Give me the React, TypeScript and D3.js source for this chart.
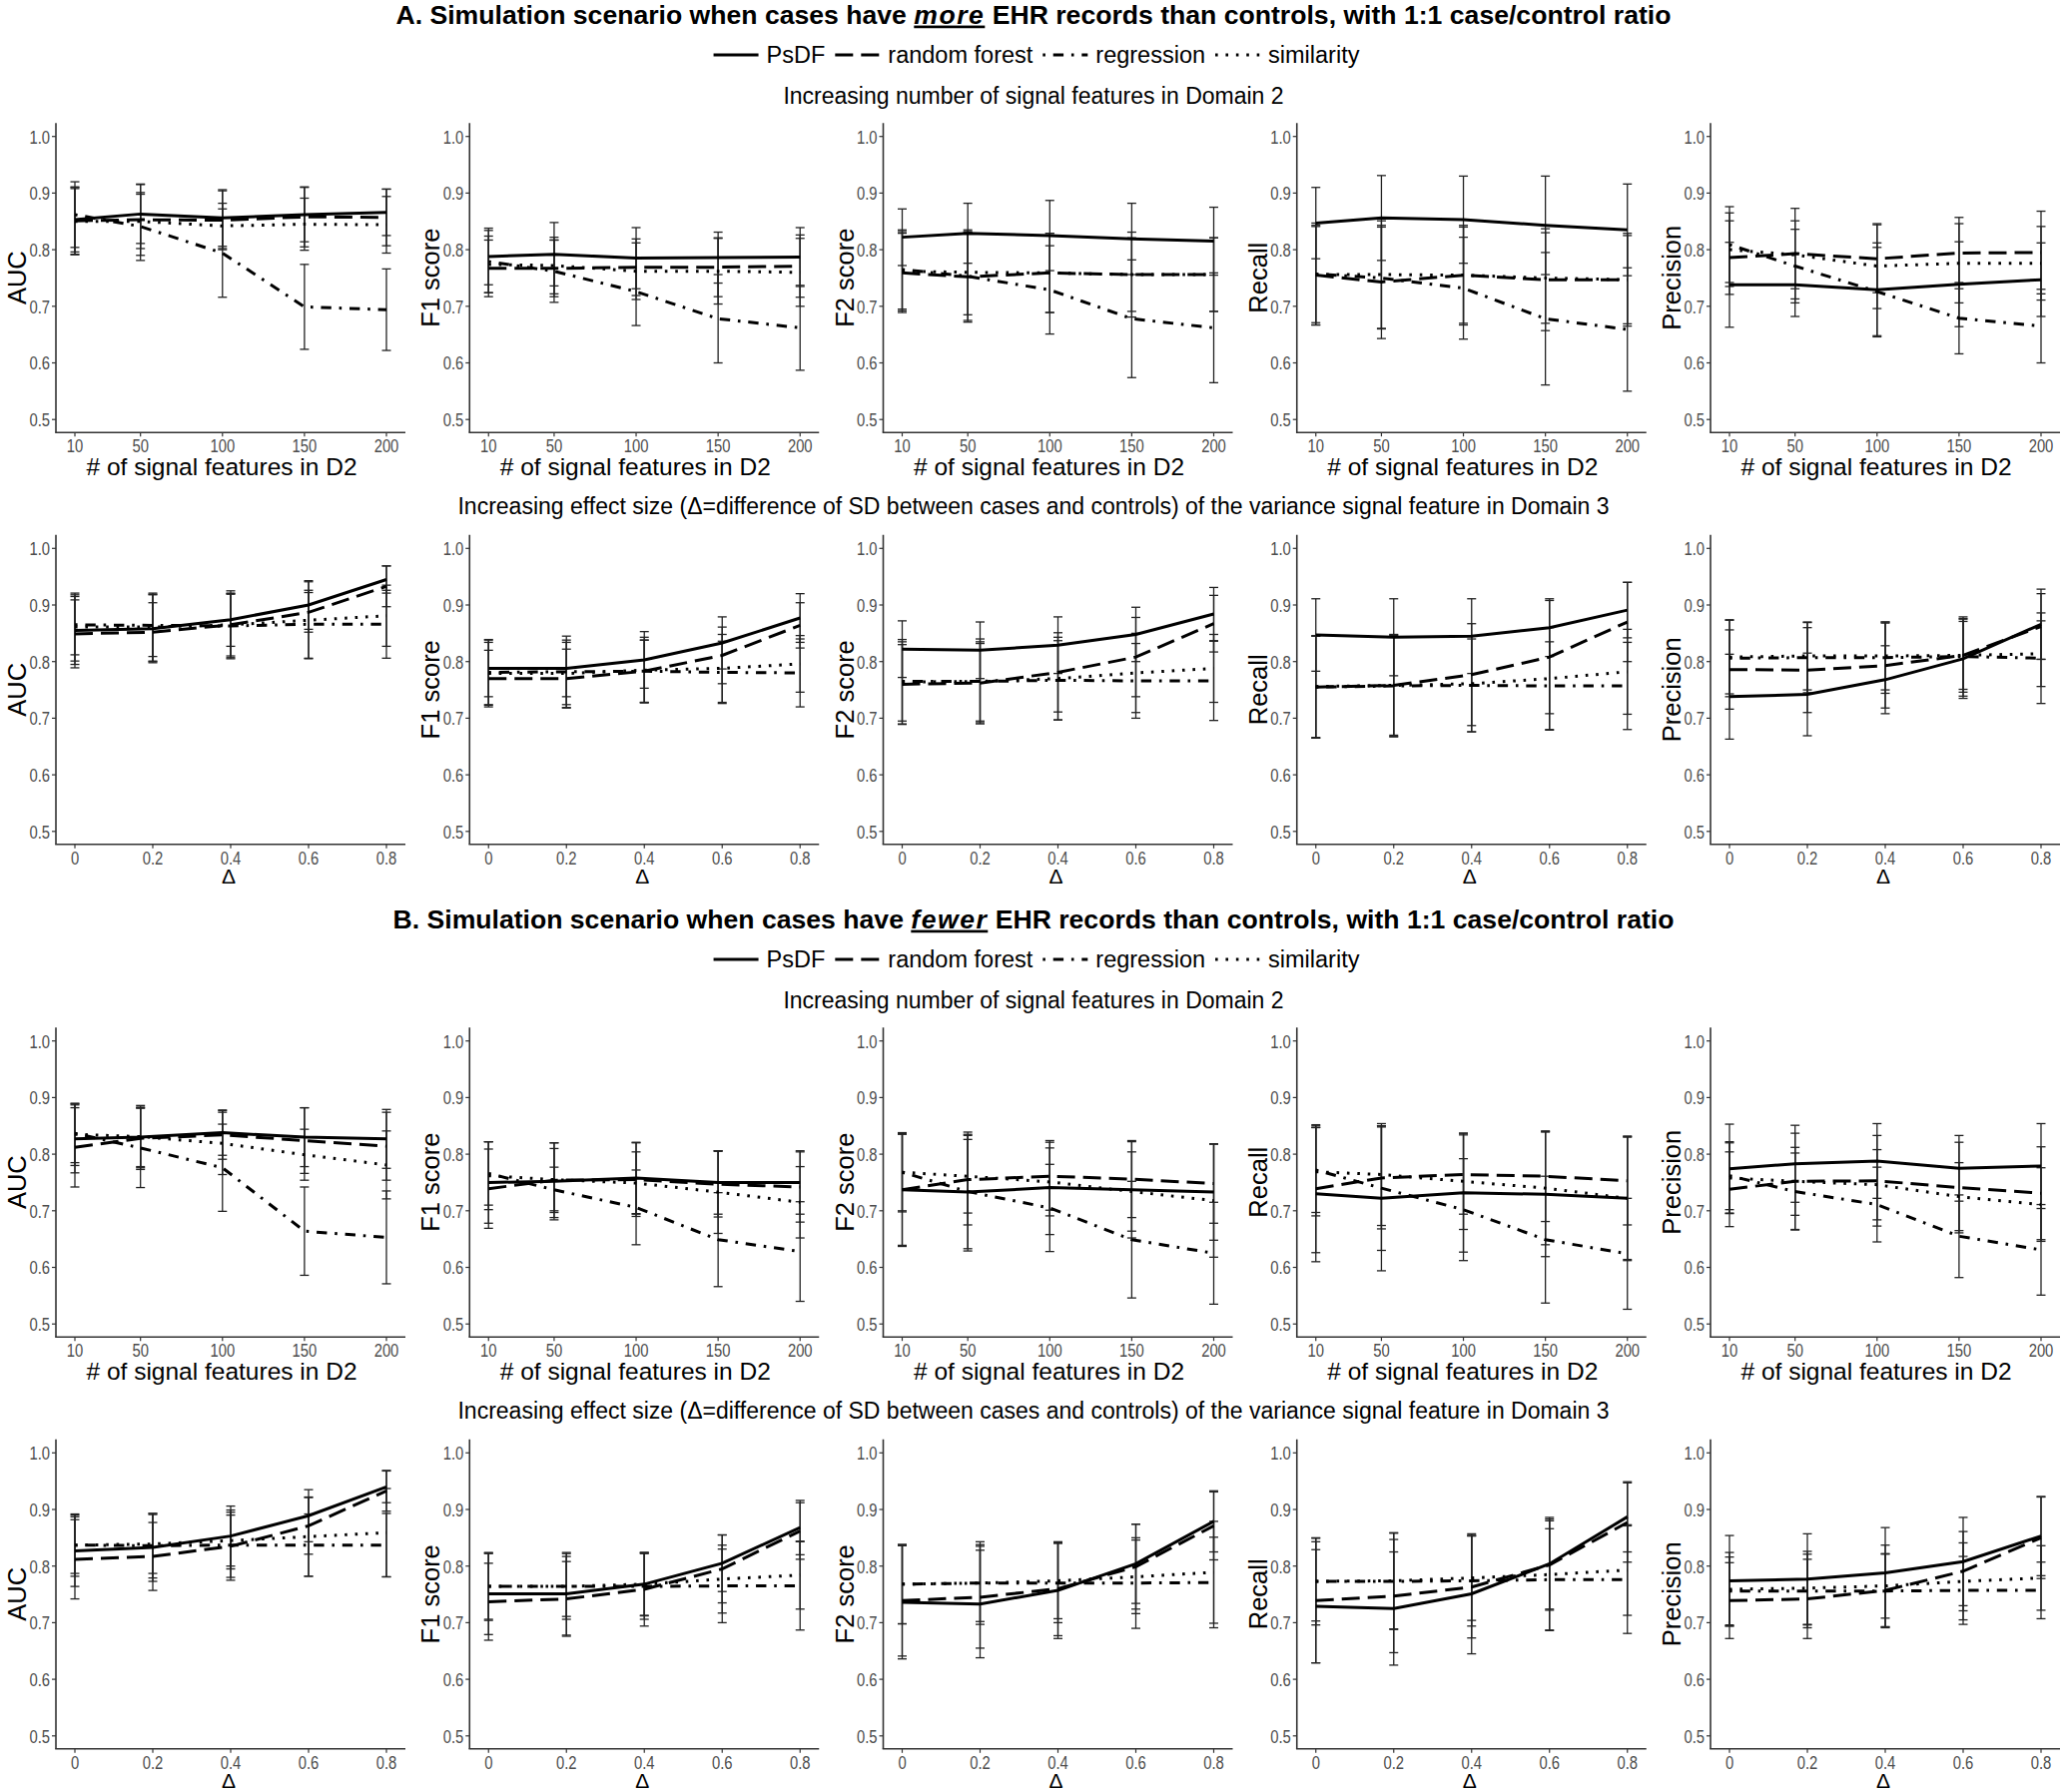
import React, { useEffect, useRef } from "react";
import * as d3 from "d3";

const W = 2067;
const H = 1795;

const methods = ["PsDF", "random forest", "regression", "similarity"];
const dashes = [null, "18,8", "2.6,7.8,10.4,7.8", "2.6,7.8"];
const metricLabels = ["AUC", "F1 score", "F2 score", "Recall", "Precision"];
const signalX = [10, 50, 100, 150, 200];
const deltaX = [0, 0.2, 0.4, 0.6, 0.8];
const signalTickLabels = ["10", "50", "100", "150", "200"];
const deltaTickLabels = ["0", "0.2", "0.4", "0.6", "0.8"];
const yTickValues = [0.5, 0.6, 0.7, 0.8, 0.9, 1.0];

// ---- A: cases have more EHR records, increasing # signal features (rows: PsDF, RF, regression, similarity)
const moreSignalAUC = [[0.853, 0.863, 0.856, 0.862, 0.866], [0.851, 0.853, 0.852, 0.858, 0.857], [0.862, 0.841, 0.794, 0.699, 0.694], [0.850, 0.850, 0.842, 0.845, 0.844]];
const moreSignalF1 = [[0.788, 0.792, 0.785, 0.786, 0.787], [0.767, 0.767, 0.769, 0.769, 0.771], [0.779, 0.762, 0.726, 0.678, 0.662], [0.774, 0.772, 0.762, 0.762, 0.760]];
const moreSignalF2 = [[0.822, 0.829, 0.825, 0.819, 0.815], [0.759, 0.752, 0.759, 0.756, 0.756], [0.765, 0.753, 0.729, 0.678, 0.662], [0.762, 0.760, 0.759, 0.756, 0.756]];
const moreSignalRecall = [[0.847, 0.856, 0.853, 0.843, 0.835], [0.755, 0.743, 0.755, 0.747, 0.747], [0.757, 0.750, 0.732, 0.678, 0.659], [0.756, 0.756, 0.755, 0.750, 0.747]];
const moreSignalPrecision = [[0.738, 0.738, 0.729, 0.739, 0.747], [0.786, 0.793, 0.784, 0.794, 0.795], [0.809, 0.771, 0.726, 0.679, 0.665], [0.800, 0.791, 0.771, 0.776, 0.776]];

const moreSignalAUCsd = [[0.057, 0.052, 0.050, 0.048, 0.041], [0.060, 0.063, 0.052, 0.053, 0.050], [0.058, 0.060, 0.078, 0.075, 0.072], [0.058, 0.048, 0.040, 0.046, 0.050]];
const moreSignalF1sd = [[0.050, 0.056, 0.054, 0.045, 0.052], [0.050, 0.050, 0.050, 0.052, 0.055], [0.055, 0.055, 0.060, 0.078, 0.075], [0.050, 0.050, 0.050, 0.058, 0.060]];
const moreSignalF2sd = [[0.050, 0.053, 0.062, 0.063, 0.060], [0.070, 0.080, 0.070, 0.065, 0.065], [0.070, 0.078, 0.078, 0.104, 0.097], [0.070, 0.075, 0.070, 0.075, 0.065]];
const moreSignalRecallsd = [[0.063, 0.075, 0.077, 0.087, 0.081], [0.088, 0.100, 0.088, 0.090, 0.082], [0.090, 0.090, 0.090, 0.117, 0.109], [0.085, 0.095, 0.085, 0.080, 0.078]];
const moreSignalPrecisionsd = [[0.075, 0.056, 0.083, 0.075, 0.065], [0.065, 0.080, 0.060, 0.063, 0.073], [0.067, 0.065, 0.078, 0.063, 0.065], [0.065, 0.060, 0.075, 0.070, 0.065]];

// ---- A: increasing effect size Δ
const moreDeltaAUC = [[0.855, 0.858, 0.874, 0.900, 0.945], [0.849, 0.852, 0.865, 0.887, 0.933], [0.865, 0.864, 0.863, 0.866, 0.866], [0.861, 0.861, 0.865, 0.873, 0.881]];
const moreDeltaF1 = [[0.788, 0.788, 0.803, 0.833, 0.877], [0.770, 0.770, 0.783, 0.811, 0.864], [0.781, 0.782, 0.783, 0.781, 0.780], [0.779, 0.779, 0.785, 0.788, 0.796]];
const moreDeltaF2 = [[0.822, 0.820, 0.829, 0.848, 0.884], [0.760, 0.762, 0.781, 0.808, 0.867], [0.765, 0.765, 0.767, 0.766, 0.766], [0.764, 0.765, 0.770, 0.780, 0.788]];
const moreDeltaRecall = [[0.847, 0.843, 0.845, 0.860, 0.891], [0.755, 0.758, 0.777, 0.808, 0.870], [0.755, 0.757, 0.758, 0.757, 0.757], [0.756, 0.758, 0.761, 0.770, 0.782]];
const moreDeltaPrecision = [[0.738, 0.742, 0.768, 0.805, 0.866], [0.786, 0.785, 0.793, 0.811, 0.862], [0.806, 0.807, 0.807, 0.809, 0.806], [0.808, 0.810, 0.810, 0.811, 0.814]];

const moreDeltaAUCsd = [[0.060, 0.060, 0.047, 0.043, 0.024], [0.060, 0.052, 0.055, 0.035, 0.036], [0.053, 0.055, 0.056, 0.060, 0.060], [0.060, 0.060, 0.060, 0.068, 0.054]];
const moreDeltaF1sd = [[0.050, 0.050, 0.050, 0.046, 0.043], [0.050, 0.052, 0.055, 0.050, 0.040], [0.058, 0.063, 0.055, 0.055, 0.060], [0.055, 0.055, 0.058, 0.060, 0.050]];
const moreDeltaF2sd = [[0.050, 0.050, 0.050, 0.048, 0.047], [0.070, 0.070, 0.070, 0.070, 0.050], [0.070, 0.075, 0.070, 0.066, 0.070], [0.075, 0.070, 0.073, 0.070, 0.060]];
const moreDeltaRecallsd = [[0.064, 0.068, 0.066, 0.051, 0.049], [0.090, 0.090, 0.090, 0.100, 0.070], [0.090, 0.090, 0.082, 0.078, 0.077], [0.090, 0.088, 0.085, 0.090, 0.075]];
const moreDeltaPrecisionsd = [[0.075, 0.073, 0.060, 0.070, 0.062], [0.070, 0.075, 0.075, 0.060, 0.058], [0.068, 0.062, 0.063, 0.070, 0.080], [0.065, 0.060, 0.060, 0.065, 0.058]];

// ---- B: cases have fewer EHR records, increasing # signal features
const fewerSignalAUC = [[0.827, 0.830, 0.838, 0.830, 0.827], [0.812, 0.828, 0.834, 0.824, 0.814], [0.837, 0.811, 0.776, 0.664, 0.653], [0.835, 0.831, 0.819, 0.799, 0.781]];
const fewerSignalF1 = [[0.750, 0.752, 0.758, 0.750, 0.750], [0.739, 0.754, 0.755, 0.747, 0.742], [0.766, 0.737, 0.706, 0.649, 0.628], [0.762, 0.755, 0.749, 0.733, 0.715]];
const fewerSignalF2 = [[0.737, 0.733, 0.741, 0.737, 0.733], [0.737, 0.755, 0.761, 0.756, 0.748], [0.768, 0.734, 0.705, 0.649, 0.625], [0.768, 0.761, 0.751, 0.734, 0.718]];
const fewerSignalRecall = [[0.730, 0.722, 0.732, 0.729, 0.722], [0.739, 0.758, 0.764, 0.761, 0.753], [0.772, 0.740, 0.702, 0.649, 0.624], [0.769, 0.764, 0.752, 0.740, 0.722]];
const fewerSignalPrecision = [[0.774, 0.783, 0.788, 0.775, 0.779], [0.738, 0.752, 0.753, 0.741, 0.731], [0.762, 0.734, 0.711, 0.655, 0.631], [0.758, 0.752, 0.746, 0.725, 0.711]];

const fewerSignalAUCsd = [[0.060, 0.052, 0.040, 0.052, 0.052], [0.070, 0.055, 0.043, 0.058, 0.060], [0.052, 0.070, 0.077, 0.078, 0.082], [0.055, 0.055, 0.055, 0.045, 0.060]];
const fewerSignalF1sd = [[0.072, 0.068, 0.063, 0.056, 0.056], [0.070, 0.066, 0.065, 0.058, 0.062], [0.056, 0.040, 0.066, 0.083, 0.088], [0.060, 0.055, 0.055, 0.073, 0.063]];
const fewerSignalF2sd = [[0.100, 0.100, 0.083, 0.085, 0.085], [0.098, 0.080, 0.060, 0.068, 0.070], [0.070, 0.105, 0.077, 0.103, 0.090], [0.068, 0.065, 0.060, 0.070, 0.100]];
const fewerSignalRecallsd = [[0.120, 0.128, 0.105, 0.110, 0.108], [0.113, 0.090, 0.070, 0.080, 0.078], [0.075, 0.110, 0.090, 0.112, 0.098], [0.078, 0.090, 0.085, 0.100, 0.110]];
const fewerSignalPrecisionsd = [[0.079, 0.068, 0.066, 0.058, 0.075], [0.066, 0.085, 0.080, 0.080, 0.082], [0.060, 0.068, 0.066, 0.073, 0.080], [0.062, 0.060, 0.062, 0.060, 0.065]];

// ---- B: increasing effect size Δ
const fewerDeltaAUC = [[0.827, 0.833, 0.853, 0.889, 0.940], [0.812, 0.817, 0.835, 0.871, 0.933], [0.837, 0.836, 0.837, 0.837, 0.837], [0.837, 0.839, 0.845, 0.852, 0.859]];
const fewerDeltaF1 = [[0.751, 0.751, 0.768, 0.805, 0.868], [0.737, 0.742, 0.759, 0.795, 0.862], [0.764, 0.764, 0.764, 0.765, 0.765], [0.764, 0.764, 0.768, 0.777, 0.784]];
const fewerDeltaF2 = [[0.736, 0.733, 0.757, 0.804, 0.879], [0.739, 0.745, 0.760, 0.799, 0.871], [0.768, 0.770, 0.770, 0.770, 0.771], [0.768, 0.770, 0.774, 0.781, 0.789]];
const fewerDeltaRecall = [[0.729, 0.725, 0.751, 0.804, 0.887], [0.739, 0.747, 0.763, 0.802, 0.877], [0.773, 0.773, 0.774, 0.776, 0.776], [0.773, 0.774, 0.779, 0.785, 0.793]];
const fewerDeltaPrecision = [[0.774, 0.777, 0.788, 0.808, 0.853], [0.739, 0.742, 0.757, 0.791, 0.850], [0.756, 0.756, 0.756, 0.757, 0.757], [0.759, 0.761, 0.765, 0.773, 0.779]];

const fewerDeltaAUCsd = [[0.063, 0.060, 0.053, 0.046, 0.028], [0.070, 0.060, 0.055, 0.050, 0.036], [0.050, 0.057, 0.062, 0.055, 0.056], [0.055, 0.052, 0.050, 0.070, 0.078]];
const fewerDeltaF1sd = [[0.072, 0.073, 0.055, 0.050, 0.048], [0.068, 0.066, 0.065, 0.060, 0.050], [0.058, 0.053, 0.058, 0.065, 0.078], [0.060, 0.058, 0.056, 0.060, 0.060]];
const fewerDeltaF2sd = [[0.100, 0.095, 0.085, 0.070, 0.054], [0.098, 0.090, 0.083, 0.075, 0.060], [0.070, 0.073, 0.070, 0.080, 0.080], [0.070, 0.068, 0.067, 0.065, 0.090]];
const fewerDeltaRecallsd = [[0.100, 0.100, 0.106, 0.082, 0.062], [0.110, 0.100, 0.090, 0.078, 0.070], [0.077, 0.085, 0.080, 0.090, 0.095], [0.070, 0.085, 0.075, 0.098, 0.080]];
const fewerDeltaPrecisionsd = [[0.080, 0.080, 0.080, 0.078, 0.070], [0.067, 0.070, 0.065, 0.070, 0.072], [0.060, 0.065, 0.065, 0.060, 0.050], [0.065, 0.065, 0.072, 0.068, 0.057]];

const signalSubtitle = "Increasing number of signal features in Domain 2";
const deltaSubtitle = "Increasing effect size (\u0394=difference of SD between cases and controls) of the variance signal feature in Domain 3";
const signalXTitle = "# of signal features in D2";
const deltaXTitle = "\u0394";

const sections = [
  {
    prefix: "A. Simulation scenario when cases have ",
    emph: "more",
    suffix: " EHR records than controls, with 1:1 case/control ratio",
    rows: [
      { means: [moreSignalAUC, moreSignalF1, moreSignalF2, moreSignalRecall, moreSignalPrecision], sds: [moreSignalAUCsd, moreSignalF1sd, moreSignalF2sd, moreSignalRecallsd, moreSignalPrecisionsd], xs: signalX, xLabels: signalTickLabels, xTitle: signalXTitle, subtitle: signalSubtitle, delta: false },
      { means: [moreDeltaAUC, moreDeltaF1, moreDeltaF2, moreDeltaRecall, moreDeltaPrecision], sds: [moreDeltaAUCsd, moreDeltaF1sd, moreDeltaF2sd, moreDeltaRecallsd, moreDeltaPrecisionsd], xs: deltaX, xLabels: deltaTickLabels, xTitle: deltaXTitle, subtitle: deltaSubtitle, delta: true },
    ],
  },
  {
    prefix: "B. Simulation scenario when cases have ",
    emph: "fewer",
    suffix: " EHR records than controls, with 1:1 case/control ratio",
    rows: [
      { means: [fewerSignalAUC, fewerSignalF1, fewerSignalF2, fewerSignalRecall, fewerSignalPrecision], sds: [fewerSignalAUCsd, fewerSignalF1sd, fewerSignalF2sd, fewerSignalRecallsd, fewerSignalPrecisionsd], xs: signalX, xLabels: signalTickLabels, xTitle: signalXTitle, subtitle: signalSubtitle, delta: false },
      { means: [fewerDeltaAUC, fewerDeltaF1, fewerDeltaF2, fewerDeltaRecall, fewerDeltaPrecision], sds: [fewerDeltaAUCsd, fewerDeltaF1sd, fewerDeltaF2sd, fewerDeltaRecallsd, fewerDeltaPrecisionsd], xs: deltaX, xLabels: deltaTickLabels, xTitle: deltaXTitle, subtitle: deltaSubtitle, delta: true },
    ],
  },
];

// layout
const FONT = "'Liberation Sans', Arial, Helvetica, sans-serif";
const sectionOffset = 906;
const titleY = 14;
const legendY = 55;
const rowSubtitleY = [96, 507];
const rowTopTick = [136.7, 549.3]; // y of 1.0
const tickSpan = 283.5; // 1.0 -> 0.5
const padTop = 13.5;
const padBottom = 13;
const colStep = 414.25;
const firstAxisX = 56;
const panelW = 350;
const xInset = 19;
const centerX = 1035;
const tickScaleX = 0.78;

export default function App() {
  const ref = useRef<SVGSVGElement | null>(null);

  useEffect(() => {
    const svg = d3.select(ref.current);
    svg.selectAll("*").remove();
    svg.append("rect").attr("width", W).attr("height", H).attr("fill", "#fff");

    sections.forEach((sec, si) => {
      const off = si * sectionOffset;
      const g = svg.append("g").attr("transform", `translate(0,${off})`);

      // title
      const t = g.append("text")
        .attr("x", centerX).attr("y", titleY).attr("dy", "0.36em")
        .attr("text-anchor", "middle")
        .attr("font-family", FONT).attr("font-size", 26.6).attr("font-weight", "bold")
        .attr("fill", "#000");
      t.append("tspan").text(sec.prefix);
      t.append("tspan").text(sec.emph).attr("font-style", "italic").attr("text-decoration", "underline").attr("letter-spacing", 1.5);
      t.append("tspan").text(sec.suffix);

      // legend
      const lg = g.append("g");
      const keyW = 45, keyGap = 8, itemGap = 10;
      let cx = 0;
      methods.forEach((m, i) => {
        lg.append("line").attr("x1", cx).attr("x2", cx + keyW).attr("y1", legendY).attr("y2", legendY)
          .attr("stroke", "#000").attr("stroke-width", 3)
          .attr("stroke-dasharray", dashes[i] ?? null);
        cx += keyW + keyGap;
        const tx = lg.append("text").attr("x", cx).attr("y", legendY).attr("dy", "0.36em")
          .attr("font-family", FONT).attr("font-size", 23.5).attr("fill", "#000").text(m);
        const tw = (tx.node() as SVGTextElement).getComputedTextLength();
        cx += tw + itemGap;
      });
      const totalW = cx - itemGap;
      lg.attr("transform", `translate(${centerX + 3 - totalW / 2},0)`);

      sec.rows.forEach((row, ri) => {
        // subtitle
        g.append("text").attr("x", centerX).attr("y", rowSubtitleY[ri]).attr("dy", "0.36em")
          .attr("text-anchor", "middle").attr("font-family", FONT).attr("font-size", 23).attr("fill", "#000")
          .text(row.subtitle);

        const y1 = rowTopTick[ri];
        const yScale = d3.scaleLinear().domain([0.5, 1.0]).range([y1 + tickSpan, y1]);
        const top = y1 - padTop;
        const bottom = y1 + tickSpan + padBottom;

        metricLabels.forEach((lab, ci) => {
          const left = firstAxisX + ci * colStep;
          const xScale = d3.scaleLinear().domain([row.xs[0], row.xs[row.xs.length - 1]]).range([left + xInset, left + panelW - xInset]);
          const pg = g.append("g");

          // axes
          pg.append("line").attr("x1", left).attr("x2", left).attr("y1", top).attr("y2", bottom)
            .attr("stroke", "#333").attr("stroke-width", 1.6);
          pg.append("line").attr("x1", left - 0.8).attr("x2", left + panelW).attr("y1", bottom).attr("y2", bottom)
            .attr("stroke", "#333").attr("stroke-width", 1.6);

          yTickValues.forEach((v) => {
            const yy = yScale(v);
            pg.append("line").attr("x1", left - 4).attr("x2", left).attr("y1", yy).attr("y2", yy)
              .attr("stroke", "#333").attr("stroke-width", 1.2);
            pg.append("text")
              .attr("transform", `translate(${left - 6},${yy}) scale(${tickScaleX},1)`)
              .attr("dy", "0.36em").attr("text-anchor", "end")
              .attr("font-family", FONT).attr("font-size", 19).attr("fill", "#4d4d4d")
              .text(d3.format(".1f")(v));
          });
          row.xs.forEach((v, k) => {
            const xx = xScale(v);
            pg.append("line").attr("x1", xx).attr("x2", xx).attr("y1", bottom).attr("y2", bottom + 4)
              .attr("stroke", "#333").attr("stroke-width", 1.2);
            pg.append("text")
              .attr("transform", `translate(${xx},${bottom + 13}) scale(${tickScaleX},1)`)
              .attr("dy", "0.36em").attr("text-anchor", "middle")
              .attr("font-family", FONT).attr("font-size", 19).attr("fill", "#4d4d4d")
              .text(row.xLabels[k]);
          });

          // axis titles
          pg.append("text")
            .attr("x", left + panelW / 2 + (row.delta ? -2 : -9))
            .attr("y", bottom + (row.delta ? 32 : 34)).attr("dy", "0.36em")
            .attr("text-anchor", "middle").attr("font-family", FONT)
            .attr("font-size", row.delta ? 21 : 24.5).attr("fill", "#000")
            .text(row.xTitle);
          pg.append("text")
            .attr("transform", `translate(${left - 39},${(top + bottom) / 2}) rotate(-90)`)
            .attr("dy", "0.36em").attr("text-anchor", "middle").attr("font-family", FONT)
            .attr("font-size", 25.5).attr("fill", "#000")
            .text(lab);

          const means = row.means[ci];
          const sds = row.sds[ci];

          // error bars
          means.forEach((series, mi) => {
            series.forEach((mv, k) => {
              const xx = xScale(row.xs[k]);
              const lo = yScale(mv - sds[mi][k]);
              const hi = yScale(mv + sds[mi][k]);
              pg.append("line").attr("x1", xx).attr("x2", xx).attr("y1", lo).attr("y2", hi)
                .attr("stroke", "#222").attr("stroke-width", 1.3);
              [lo, hi].forEach((yy) => {
                pg.append("line").attr("x1", xx - 4.5).attr("x2", xx + 4.5).attr("y1", yy).attr("y2", yy)
                  .attr("stroke", "#222").attr("stroke-width", 1.3);
              });
            });
          });

          // lines
          const lineGen = d3.line<number>()
            .x((_, k) => xScale(row.xs[k]))
            .y((d) => yScale(d));
          means.forEach((series, mi) => {
            pg.append("path").attr("d", lineGen(series) as string)
              .attr("fill", "none").attr("stroke", "#000").attr("stroke-width", 3)
              .attr("stroke-dasharray", dashes[mi] ?? null);
          });
        });
      });
    });
  }, []);

  return (
    <svg
      ref={ref}
      width={W}
      height={H}
      viewBox={`0 0 ${W} ${H}`}
      style={{ position: "absolute", left: 0, top: 0, display: "block" }}
    />
  );
}
